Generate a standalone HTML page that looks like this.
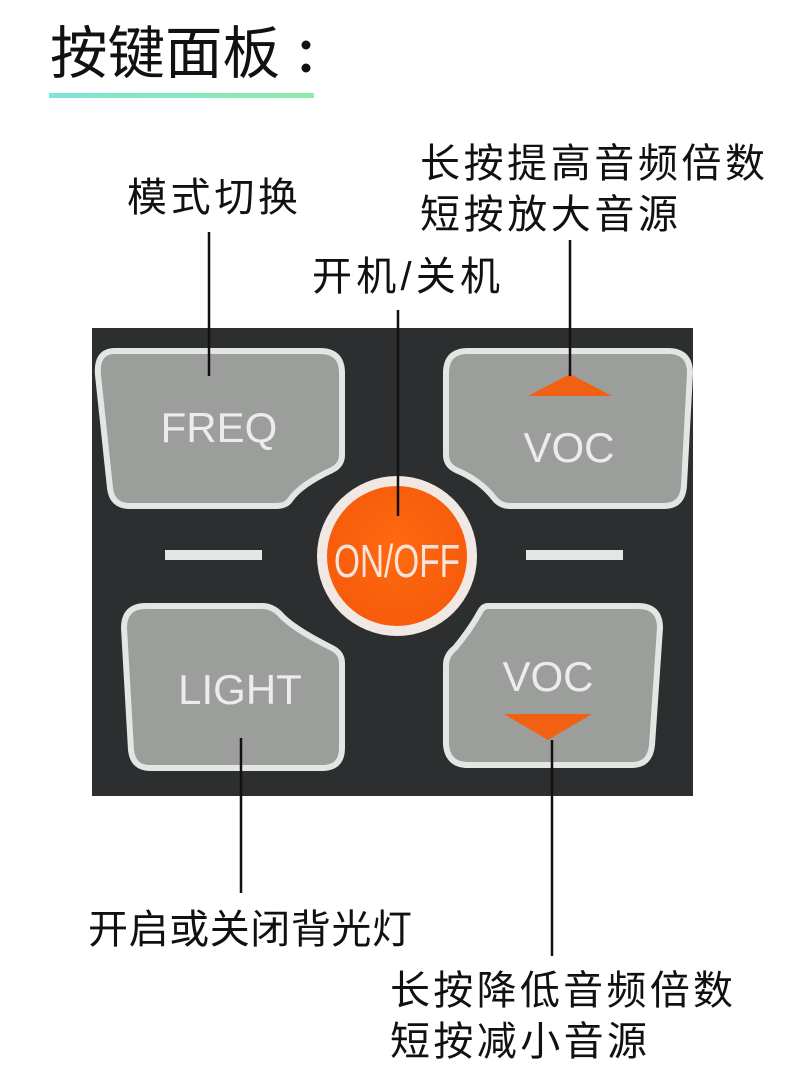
<!DOCTYPE html>
<html><head><meta charset="utf-8"><style>
html,body{margin:0;padding:0;background:#fff;}
svg{display:block;}
text{font-family:"Liberation Sans","Noto Sans CJK SC",sans-serif;}
</style></head><body>
<svg width="790" height="1079" viewBox="0 0 790 1079" xmlns="http://www.w3.org/2000/svg">
<defs>
<linearGradient id="ug" x1="0" x2="1"><stop offset="0" stop-color="#7de6d8"/><stop offset="1" stop-color="#8eeaa8"/></linearGradient>
<radialGradient id="og" cx="0.5" cy="0.45" r="0.6"><stop offset="0" stop-color="#ff6a10"/><stop offset="1" stop-color="#f55a0a"/></radialGradient>
</defs>
<text x="50" y="73" font-size="57" fill="#111" textLength="230" lengthAdjust="spacingAndGlyphs">按键面板</text>
<circle cx="306" cy="45" r="4.5" fill="#111"/>
<circle cx="306" cy="68" r="4.5" fill="#111"/>
<rect x="49" y="93" width="265" height="5" fill="url(#ug)"/>

<rect x="92" y="328" width="601" height="468" fill="#2c2e30"/>
<path d="M115 351 H320 Q342 351 342 373 V455 Q342 465 332 470 Q300 485 290 500 Q286 506 276 506 H130 Q112 506 110 488 L98 375 Q96 351 115 351 Z" fill="#9c9e9c" stroke="#e4e6e4" stroke-width="6"/>
<text x="219" y="442" font-size="42" fill="#ececec" text-anchor="middle">FREQ</text>
<path d="M468 351 H668 Q690 351 690 373 L684 485 Q683 506 664 506 H510 Q500 506 494 498 Q480 480 456 470 Q446 465 446 455 V373 Q446 351 468 351 Z" fill="#9c9e9c" stroke="#e4e6e4" stroke-width="6"/>
<text x="569" y="462" font-size="42" fill="#ececec" text-anchor="middle">VOC</text>
<polygon points="570,374 612,396 528,396" fill="#f26014"/>
<path d="M146 606 H262 Q272 606 280 614 Q292 628 332 648 Q342 653 342 663 V748 Q342 768 322 768 H150 Q133 768 131 750 L124 628 Q124 606 146 606 Z" fill="#9c9e9c" stroke="#e4e6e4" stroke-width="6"/>
<text x="240" y="704" font-size="42" fill="#ececec" text-anchor="middle">LIGHT</text>
<path d="M488 606 H638 Q660 606 660 628 L652 745 Q650 765 632 765 H468 Q448 765 446 745 V665 Q446 655 455 648 Q470 630 480 612 Q483 606 488 606 Z" fill="#9c9e9c" stroke="#e4e6e4" stroke-width="6"/>
<text x="548" y="691" font-size="42" fill="#ececec" text-anchor="middle">VOC</text>
<polygon points="504,714 592,714 548,740" fill="#f26014"/>
<rect x="165" y="550" width="97" height="10" fill="#e4e6e4"/>
<rect x="526" y="550" width="97" height="10" fill="#e4e6e4"/>
<circle cx="397" cy="556" r="80" fill="#f1e8e4"/>
<circle cx="397" cy="556" r="70" fill="url(#og)"/>
<text x="397" y="577" font-size="46" fill="#f7e4dc" text-anchor="middle" textLength="126" lengthAdjust="spacingAndGlyphs">ON/OFF</text>

<g stroke="#111" stroke-width="2.5">
<line x1="209" y1="232" x2="209" y2="376"/>
<line x1="398" y1="310" x2="398" y2="516"/>
<line x1="570" y1="240" x2="570" y2="376"/>
<line x1="241" y1="738" x2="241" y2="893"/>
<line x1="552" y1="740" x2="552" y2="956"/>
</g>
<g font-size="40" fill="#111" lengthAdjust="spacingAndGlyphs">
<text x="127" y="211" textLength="171">模式切换</text>
<text x="312" y="290" textLength="188">开机/关机</text>
<text x="420" y="177" textLength="345">长按提高音频倍数</text>
<text x="420" y="228" textLength="258">短按放大音源</text>
<text x="88" y="943" textLength="324">开启或关闭背光灯</text>
<text x="390" y="1004" textLength="343">长按降低音频倍数</text>
<text x="390" y="1055" textLength="257">短按减小音源</text>
</g>
</svg>
</body></html>
